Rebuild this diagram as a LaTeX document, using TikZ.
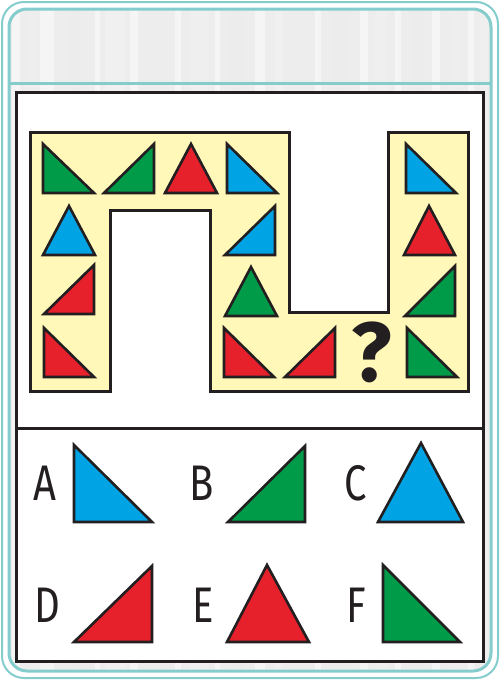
\documentclass[tikz,border=0pt]{standalone}
\usepackage{fontspec}
\setmainfont{Fira Sans}
\definecolor{tealc}{HTML}{85CCCD}
\definecolor{ink}{HTML}{231F20}
\definecolor{pyel}{HTML}{FFF8B8}
\definecolor{tgreen}{HTML}{009B48}
\definecolor{tred}{HTML}{E6212C}
\definecolor{tblue}{HTML}{00A3E4}
\definecolor{bggray}{HTML}{EDEDED}
\begin{document}
\begin{tikzpicture}[x=1pt,y=-1pt,
  tri/.style={draw=ink,line width=2.6pt,line join=miter,fill=#1},
  lbl/.style={font=\fontsize{50}{50}\selectfont, text=ink, inner sep=0pt},
  frame/.style={draw=ink,line width=3pt}]
\useasboundingbox (0,0) rectangle (500,680);
% outer teal border
\draw[tealc,line width=2pt,fill=white,rounded corners=22pt] (2,2) rectangle (498,678);
% inner gray streaky band
\begin{scope}
\clip[rounded corners=18pt] (9,9) rectangle (491,671);
\fill[bggray] (9,9) rectangle (491,671);
\foreach \x/\w/\c in {12/8/white, 30/6/gray!12, 40/14/white, 70/10/gray!15, 95/5/white,
  105/20/gray!8, 130/8/white, 150/12/gray!14, 175/6/white, 190/18/gray!10, 215/5/white,
  230/14/gray!16, 255/10/white, 275/8/gray!9, 290/16/gray!13, 315/6/white, 330/20/gray!15,
  360/8/white, 375/12/gray!10, 395/6/white, 410/14/gray!15, 432/8/white, 450/10/gray!12,
  468/6/white, 480/8/gray!10}
  \fill[\c,opacity=0.45] (\x,9) rectangle ++(\w,662);
\end{scope}
\draw[tealc,line width=3pt,rounded corners=18pt] (9,9) rectangle (491,671);
\draw[tealc,line width=3pt] (9,83) -- (491,83);
% main frame
\draw[frame,fill=white] (16,92) rectangle (483,661);
\draw[frame] (16,428) -- (483,428);
% yellow puzzle panel
\draw[draw=ink,line width=3pt,fill=pyel,line join=miter]
  (30,132) -- (289,132) -- (289,312) -- (388,312) -- (388,132) -- (468,132)
  -- (468,391) -- (210,391) -- (210,210) -- (110,210) -- (110,391) -- (30,391) -- cycle;
% row 1
\draw[tri=tgreen] (43,144) -- (43,193) -- (94,193) -- cycle;
\draw[tri=tgreen] (104,193) -- (154,193) -- (154,144) -- cycle;
\draw[tri=tred] (191,144) -- (165,193) -- (217,193) -- cycle;
\draw[tri=tblue] (227,144) -- (227,193) -- (277,193) -- cycle;
\draw[tri=tblue] (406,144) -- (406,193) -- (456,193) -- cycle;
% row 2
\draw[tri=tblue] (69,206) -- (43,255) -- (95,255) -- cycle;
\draw[tri=tblue] (225,255) -- (275,255) -- (275,206) -- cycle;
\draw[tri=tred] (429,206) -- (404,255) -- (455,255) -- cycle;
% row 3
\draw[tri=tred] (44,314) -- (94,314) -- (94,265) -- cycle;
\draw[tri=tgreen] (251,267) -- (225,316) -- (277,316) -- cycle;
\draw[tri=tgreen] (405,316) -- (455,316) -- (455,266) -- cycle;
% row 4
\draw[tri=tred] (44,328) -- (44,377) -- (94,377) -- cycle;
\draw[tri=tred] (224,328) -- (224,377) -- (274,377) -- cycle;
\draw[tri=tred] (285,377) -- (335,377) -- (335,328) -- cycle;
\node[lbl,font=\fontsize{84}{84}\selectfont\bfseries] (q) at (372,352) {?};
\draw[tri=tgreen] (407,328) -- (407,377) -- (457,377) -- cycle;
% answers
\node[lbl] (lA) at (45,483) {\scalebox{0.8}[1]{A}};
\draw[tri=tblue] (74,445) -- (74,522) -- (152,522) -- cycle;
\node[lbl] (lB) at (202,483) {\scalebox{0.8}[1]{B}};
\draw[tri=tgreen] (228,522) -- (305,522) -- (305,446) -- cycle;
\node[lbl] (lC) at (356,483) {\scalebox{0.8}[1]{C}};
\draw[tri=tblue] (421,443) -- (378,522) -- (463,522) -- cycle;
\node[lbl] (lD) at (47,605) {\scalebox{0.8}[1]{D}};
\draw[tri=tred] (74,642) -- (152,642) -- (152,566) -- cycle;
\node[lbl] (lE) at (203,605) {\scalebox{0.8}[1]{E}};
\draw[tri=tred] (267,565) -- (227,642) -- (309,642) -- cycle;
\node[lbl] (lF) at (356,605) {\scalebox{0.8}[1]{F}};
\draw[tri=tgreen] (383,565) -- (383,642) -- (460,642) -- cycle;
\end{tikzpicture}
\end{document}
